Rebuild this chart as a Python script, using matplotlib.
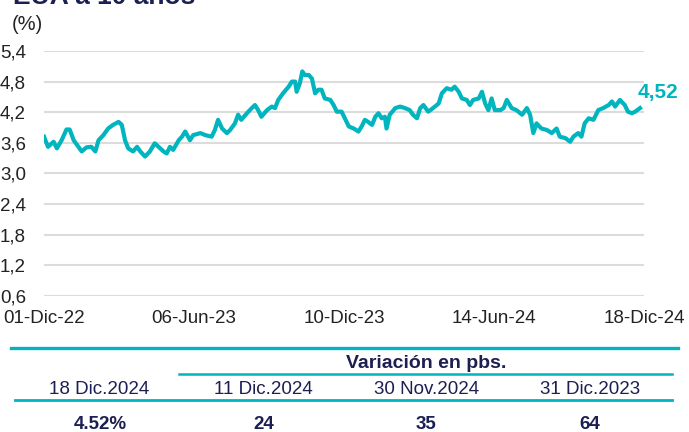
import matplotlib
matplotlib.use("Agg")
import matplotlib.pyplot as plt
from matplotlib.lines import Line2D
import pandas as pd

plt.rcParams['font.family'] = ['Liberation Sans', 'DejaVu Sans']

# --- data ---
start = "2022-12-01"
end = "2024-12-18"
days = [0, 5, 12, 16, 22, 28, 32, 37, 43, 47, 53, 59, 64, 68, 74, 80, 86, 93, 97,
        101, 105, 111, 116, 120, 126, 132, 138, 145, 149, 153, 157, 161, 168, 172,
        176, 182, 186, 195, 201, 209, 213, 217, 222, 228, 232, 238, 242, 246, 253,
        259, 263, 267, 271, 278, 284, 288, 292, 298, 305, 309, 313, 315, 319, 322,
        325, 330, 334, 338, 342, 346, 350, 357, 361, 365, 371, 375, 380, 386, 392,
        396, 400, 404, 409, 413, 417, 421, 425, 427, 431, 438, 444, 450, 456, 460,
        465, 469, 473, 479, 485, 492, 496, 502, 508, 512, 517, 521, 527, 531, 535,
        542, 546, 550, 554, 558, 562, 569, 573, 577, 583, 589, 596, 602, 606, 610,
        614, 620, 627, 633, 639, 643, 650, 656, 660, 666, 670, 674, 679, 685, 691,
        697, 704, 708, 712, 718, 724, 728, 733, 737, 743]
yields = [3.72, 3.52, 3.62, 3.49, 3.65, 3.86, 3.86, 3.65, 3.52, 3.43, 3.51, 3.52,
          3.43, 3.65, 3.75, 3.88, 3.95, 4.01, 3.95, 3.65, 3.49, 3.43, 3.52, 3.43,
          3.33, 3.43, 3.59, 3.49, 3.43, 3.39, 3.52, 3.46, 3.65, 3.72, 3.82, 3.65,
          3.75, 3.79, 3.75, 3.72, 3.85, 4.05, 3.88, 3.79, 3.85, 3.98, 4.15, 4.05,
          4.18, 4.28, 4.34, 4.24, 4.11, 4.24, 4.31, 4.28, 4.44, 4.57, 4.70, 4.80,
          4.80, 4.60, 4.77, 5.00, 4.93, 4.93, 4.86, 4.57, 4.64, 4.64, 4.47, 4.44,
          4.34, 4.21, 4.21, 4.08, 3.92, 3.88, 3.82, 3.92, 4.05, 4.01, 3.95, 4.11,
          4.18, 4.08, 4.11, 3.88, 4.15, 4.28, 4.31, 4.28, 4.24, 4.15, 4.08, 4.28,
          4.34, 4.21, 4.28, 4.37, 4.57, 4.67, 4.64, 4.70, 4.60, 4.47, 4.44, 4.34,
          4.44, 4.47, 4.60, 4.37, 4.24, 4.47, 4.24, 4.24, 4.28, 4.44, 4.28, 4.24,
          4.15, 4.28, 4.15, 3.79, 3.98, 3.88, 3.85, 3.79, 3.88, 3.72, 3.69, 3.62,
          3.72, 3.79, 3.72, 3.98, 4.08, 4.05, 4.24, 4.28, 4.34, 4.41, 4.31, 4.44,
          4.34, 4.21, 4.18, 4.21, 4.28]
last_label = "4,52"

ytick_vals = [0.6, 1.2, 1.8, 2.4, 3.0, 3.6, 4.2, 4.8, 5.4]
xtick_days = [0, 187, 374, 561, 748]
xtick_labels = ["01-Dic-22", "06-Jun-23", "10-Dic-23", "14-Jun-24", "18-Dic-24"]

tbl_date = "18 Dic.2024"
tbl_level = "4.52%"
tbl_periods = ["11 Dic.2024", "30 Nov.2024", "31 Dic.2023"]
tbl_changes = ["24", "35", "64"]

teal = "#00b5bd"
navy = "#1c1f52"

W, H = 689, 432
def fx(x):
    return x / W
def fy(y):
    return 1 - y / H

dates = pd.to_datetime(start) + pd.to_timedelta(days, unit="D")
t0 = pd.to_datetime(start)

fig = plt.figure(figsize=(6.89, 4.32), dpi=100)
ax = fig.add_axes([fx(44), fy(295.7), fx(644) - fx(44), fy(51) - fy(295.7)])

ax.plot(dates, yields, color=teal, lw=3.0, solid_joinstyle="round")
ax.set_xlim(t0, pd.to_datetime(end))
ax.set_ylim(0.6, 5.4)
ax.set_yticks(ytick_vals)
ax.set_yticklabels([f"{v:.1f}".replace(".", ",") for v in ytick_vals])
ax.set_xticks([t0 + pd.Timedelta(days=d) for d in xtick_days])
ax.set_xticklabels(xtick_labels)
ax.grid(axis="y", color="#dcdcdc", lw=1.5)
ax.set_axisbelow(True)
for s in ax.spines.values():
    s.set_visible(False)
ax.tick_params(axis="y", length=0, pad=13, labelsize=13.5, labelcolor="#222222")
ax.tick_params(axis="x", length=0, pad=10, labelsize=13.5, labelcolor="#222222")

ax.annotate(last_label, (dates[-1], yields[-1]), xytext=(-2, 11),
            textcoords="offset points", ha="left", va="center",
            color=teal, fontsize=15, fontweight="bold")

# title (cut off at the top, as in the source) and unit
fig.text(fx(13), fy(4), "EUA a 10 años", color=navy, fontsize=19,
         fontweight="bold", ha="left", va="baseline")
fig.text(fx(12), fy(24), "(%)", color="#222222", fontsize=14.5,
         ha="left", va="center")

# table below the chart
fig.add_artist(Line2D([fx(11), fx(678)], [fy(347.7)] * 2, color=teal, lw=2.4))
fig.add_artist(Line2D([fx(179), fx(672)], [fy(374.3)] * 2, color=teal, lw=1.8))
fig.add_artist(Line2D([fx(15), fx(672)], [fy(400.3)] * 2, color=teal, lw=2.0))

fig.text(fx(426.5), fy(363.5), "Variación en pbs.", color=navy, fontsize=14,
         fontweight="bold", ha="center", va="center")
fig.text(fx(99.5), fy(389), tbl_date, color=navy, fontsize=13.5,
         ha="center", va="center")
fig.text(fx(100), fy(424.5), tbl_level, color=navy, fontsize=13.5,
         fontweight="bold", ha="center", va="center")
for xc, p, c in zip([263.5, 426.5, 590], tbl_periods, tbl_changes):
    fig.text(fx(xc), fy(389), p, color=navy, fontsize=13.5, ha="center", va="center")
    fig.text(fx(xc), fy(424.5), c, color=navy, fontsize=13.5,
             fontweight="bold", ha="center", va="center")

fig.savefig("out.png", dpi=100)
